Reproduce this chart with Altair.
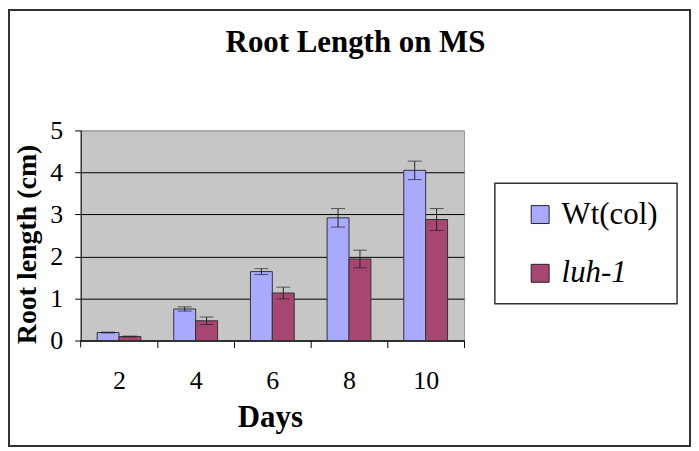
import altair as alt
import pandas as pd

SERIF = "Liberation Serif"

days = ["2", "4", "6", "8", "10"]
genotypes = ["Wt(col)", "luh-1"]
wt_mean = [0.19, 0.75, 1.64, 2.92, 4.05]
wt_err = [0.01, 0.05, 0.07, 0.22, 0.22]
luh_mean = [0.095, 0.47, 1.13, 1.94, 2.88]
luh_err = [0.01, 0.09, 0.14, 0.21, 0.26]
y_ticks = [0, 1, 2, 3, 4, 5]
colors = ["#A9A9FD", "#A84672"]
chart_title = "Root Length on MS"

rows = []
for g, means, errs in [(genotypes[0], wt_mean, wt_err), (genotypes[1], luh_mean, luh_err)]:
    for d, m, e in zip(days, means, errs):
        rows.append({"Day": d, "Genotype": g, "Mean": m, "Lo": m - e, "Hi": m + e})
df = pd.DataFrame(rows)

W, H = 385, 211

x_enc = alt.X(
    "Day:N", sort=days, title="Days",
    scale=alt.Scale(paddingInner=0.4286, paddingOuter=0.2143),
    axis=alt.Axis(
        labelAngle=0, labelFont=SERIF, labelFontSize=26, labelColor="black",
        labelBaseline="alphabetic", labelPadding=41,
        tickSize=7, tickColor="black", tickWidth=1,
        tickOffset=38.5, labelOffset=-38.5,
        domainColor="black", domainWidth=1,
        titleFont=SERIF, titleFontSize=31, titleFontWeight="bold", titleColor="black",
        titleBaseline="alphabetic", titleY=86, titleX=190, titleAlign="center",
    ),
)
xoff = alt.XOffset("Genotype:N", sort=genotypes)
y_axis = alt.Axis(
    values=y_ticks, format="d",
    labelFont=SERIF, labelFontSize=26, labelColor="black", labelPadding=12,
    tickSize=6, tickColor="black", tickWidth=1,
    grid=True, gridColor=alt.condition("datum.value == 5", alt.value("#9a9a9a"), alt.value("black")),
    gridWidth=1, domainColor="black", domainWidth=1,
    title="Root length (cm)", titleFont=SERIF, titleFontSize=28, titleFontWeight="bold",
    titleColor="black", titleAngle=-90, titleX=-53, titleY=114,
    titleAlign="center", titleBaseline="middle",
)

base = alt.Chart(df)

bars = base.mark_bar(stroke="#333333", strokeWidth=1).encode(
    x=x_enc,
    xOffset=xoff,
    y=alt.Y("Mean:Q", scale=alt.Scale(domain=[0, 5], nice=False), axis=y_axis),
    color=alt.Color(
        "Genotype:N",
        scale=alt.Scale(domain=genotypes, range=colors),
        legend=alt.Legend(
            title=None, orient="none", legendX=446, legendY=69,
            symbolType="square", symbolSize=324, symbolStrokeColor="#222222",
            symbolStrokeWidth=1, symbolOpacity=1,
            labelFont=SERIF, labelFontSize=31, labelColor="black",
            labelOffset=6, rowPadding=27, padding=0,
            labelFontStyle=alt.ExprRef("datum.label === 'luh-1' ? 'italic' : 'normal'"),
        ),
    ),
)

err = base.mark_rule(color="#222222", strokeWidth=1).encode(
    x=alt.X("Day:N", sort=days), xOffset=xoff,
    y="Lo:Q", y2="Hi:Q",
)
cap_lo = base.mark_tick(color="#222222", size=14, thickness=1).encode(
    x=alt.X("Day:N", sort=days), xOffset=xoff, y="Lo:Q",
)
cap_hi = base.mark_tick(color="#222222", size=14, thickness=1).encode(
    x=alt.X("Day:N", sort=days), xOffset=xoff, y="Hi:Q",
)

deco = alt.Chart(pd.DataFrame({"title": [chart_title]}))
frame = deco.mark_rect(filled=False, stroke="#333333", strokeWidth=2).encode(
    x=alt.value(-72), x2=alt.value(612), y=alt.value(-121), y2=alt.value(317),
)
legend_box = deco.mark_rect(fill="white", stroke="#333333", strokeWidth=1.5).encode(
    x=alt.value(416), x2=alt.value(599), y=alt.value(53), y2=alt.value(174),
)
axis_ext = deco.mark_rule(color="black", strokeWidth=1).encode(
    x=alt.value(0), y=alt.value(H), y2=alt.value(H + 7),
)
title_text = deco.mark_text(
    font=SERIF, fontSize=31, fontWeight="bold", color="black",
    align="center", baseline="alphabetic",
).encode(text="title:N", x=alt.value(276), y=alt.value(-79))

chart = alt.layer(bars, err, cap_lo, cap_hi, axis_ext, frame, legend_box, title_text).properties(
    width=W, height=H,
    autosize=alt.AutoSizeParams(type="none"),
    padding={"left": 73, "top": 122, "right": 228, "bottom": 107},
    background="white",
).configure(font=SERIF).configure_view(fill="#C6C6C6", stroke="#9a9a9a")

chart.save("out.html", embed_options={"renderer": "svg", "actions": False})
